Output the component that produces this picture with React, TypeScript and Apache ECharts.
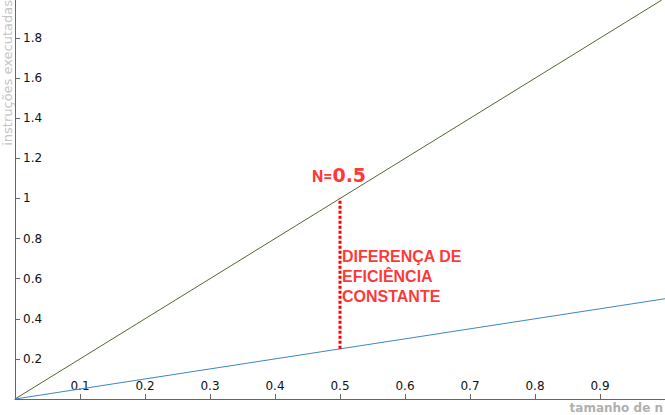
import React, { useEffect, useRef } from "react";
import * as echarts from "echarts";

const fastLine: number[][] = [[0, 0], [0.995, 1.99]];
const slowLine: number[][] = [[0, 0], [1, 0.5]];
const gapLine: number[][] = [[0.5, 0.25], [0.5, 1]];
const markerTitle: number[][] = [[0.5, 1]];
const markerNote: number[][] = [[0.5, 0.61]];
const xName = "tamanho de n";
const yName = "instruções executadas";
const noteText = ["DIFERENÇA DE", "EFICIÊNCIA", "CONSTANTE"];

export default function App() {
  const ref = useRef<HTMLDivElement>(null);
  useEffect(() => {
    if (!ref.current) return;
    const chart = echarts.init(ref.current, null, { renderer: "svg" });
    const axisCommon = {
      axisLine: { show: true, lineStyle: { color: "#666", width: 1 } },
      axisTick: { show: true, inside: true, length: 5, lineStyle: { color: "#666" } },
      splitLine: { show: false },
    };
    chart.setOption({
      animation: false,
      grid: { left: 15, right: 0, top: 0, bottom: 16, containLabel: false },
      xAxis: {
        type: "value",
        min: 0,
        max: 1,
        interval: 0.1,
        ...axisCommon,
        axisLabel: {
          inside: true,
          showMinLabel: false,
          showMaxLabel: false,
          color: "#111",
          fontSize: 12,
          fontFamily: "DejaVu Sans",
          margin: 7,
        },
      },
      yAxis: {
        type: "value",
        min: 0,
        max: 1.99,
        interval: 0.2,
        ...axisCommon,
        axisLabel: {
          inside: true,
          showMinLabel: false,
          showMaxLabel: false,
          color: "#111",
          fontSize: 12,
          fontFamily: "DejaVu Sans",
          margin: 8,
          formatter: (v: number) => String(Math.round(v * 10) / 10),
        },
      },
      graphic: [
        {
          type: "text",
          x: 663,
          y: 414,
          style: {
            text: xName,
            align: "right",
            verticalAlign: "bottom",
            fill: "#b0b0b0",
            font: "bold 12px DejaVu Sans",
          },
        },
        {
          type: "text",
          x: 14,
          y: 0,
          rotation: Math.PI / 2,
          style: {
            text: yName,
            align: "right",
            verticalAlign: "bottom",
            fill: "#c4c4c4",
            font: "13px DejaVu Sans",
          },
        },
      ],
      series: [
        {
          type: "line",
          data: fastLine,
          symbol: "none",
          lineStyle: { color: "#4e6a30", width: 1 },
          silent: true,
        },
        {
          type: "line",
          data: slowLine,
          symbol: "none",
          lineStyle: { color: "#3d85c6", width: 1 },
          silent: true,
        },
        {
          type: "line",
          data: gapLine,
          symbol: "none",
          lineStyle: { color: "#ff0000", width: 3, type: [3, 2] },
          silent: true,
        },
        {
          type: "scatter",
          data: markerTitle,
          symbolSize: 0,
          label: {
            show: true,
            position: "top",
            distance: 14,
            offset: [-1, 0],
            formatter: "{a|N=}{b|0.5}",
            rich: {
              a: { color: "#ff0000", fontSize: 16, fontWeight: "bold", fontFamily: "Roboto", verticalAlign: "bottom" },
              b: { color: "#ff0000", fontSize: 19, fontWeight: "bold", fontFamily: "DejaVu Sans", verticalAlign: "bottom" },
            },
          },
          silent: true,
        },
        {
          type: "scatter",
          data: markerNote,
          symbolSize: 0,
          label: {
            show: true,
            position: "right",
            distance: 2,
            align: "left",
            formatter: noteText.join("\n"),
            color: "#ff0000",
            fontSize: 16,
            fontWeight: "bold",
            fontFamily: "Liberation Sans",
            lineHeight: 20,
          },
          silent: true,
        },
      ],
    });
    return () => chart.dispose();
  }, []);
  return <div ref={ref} style={{ width: 665, height: 415, position: "absolute", left: 0, top: 0 }} />;
}
